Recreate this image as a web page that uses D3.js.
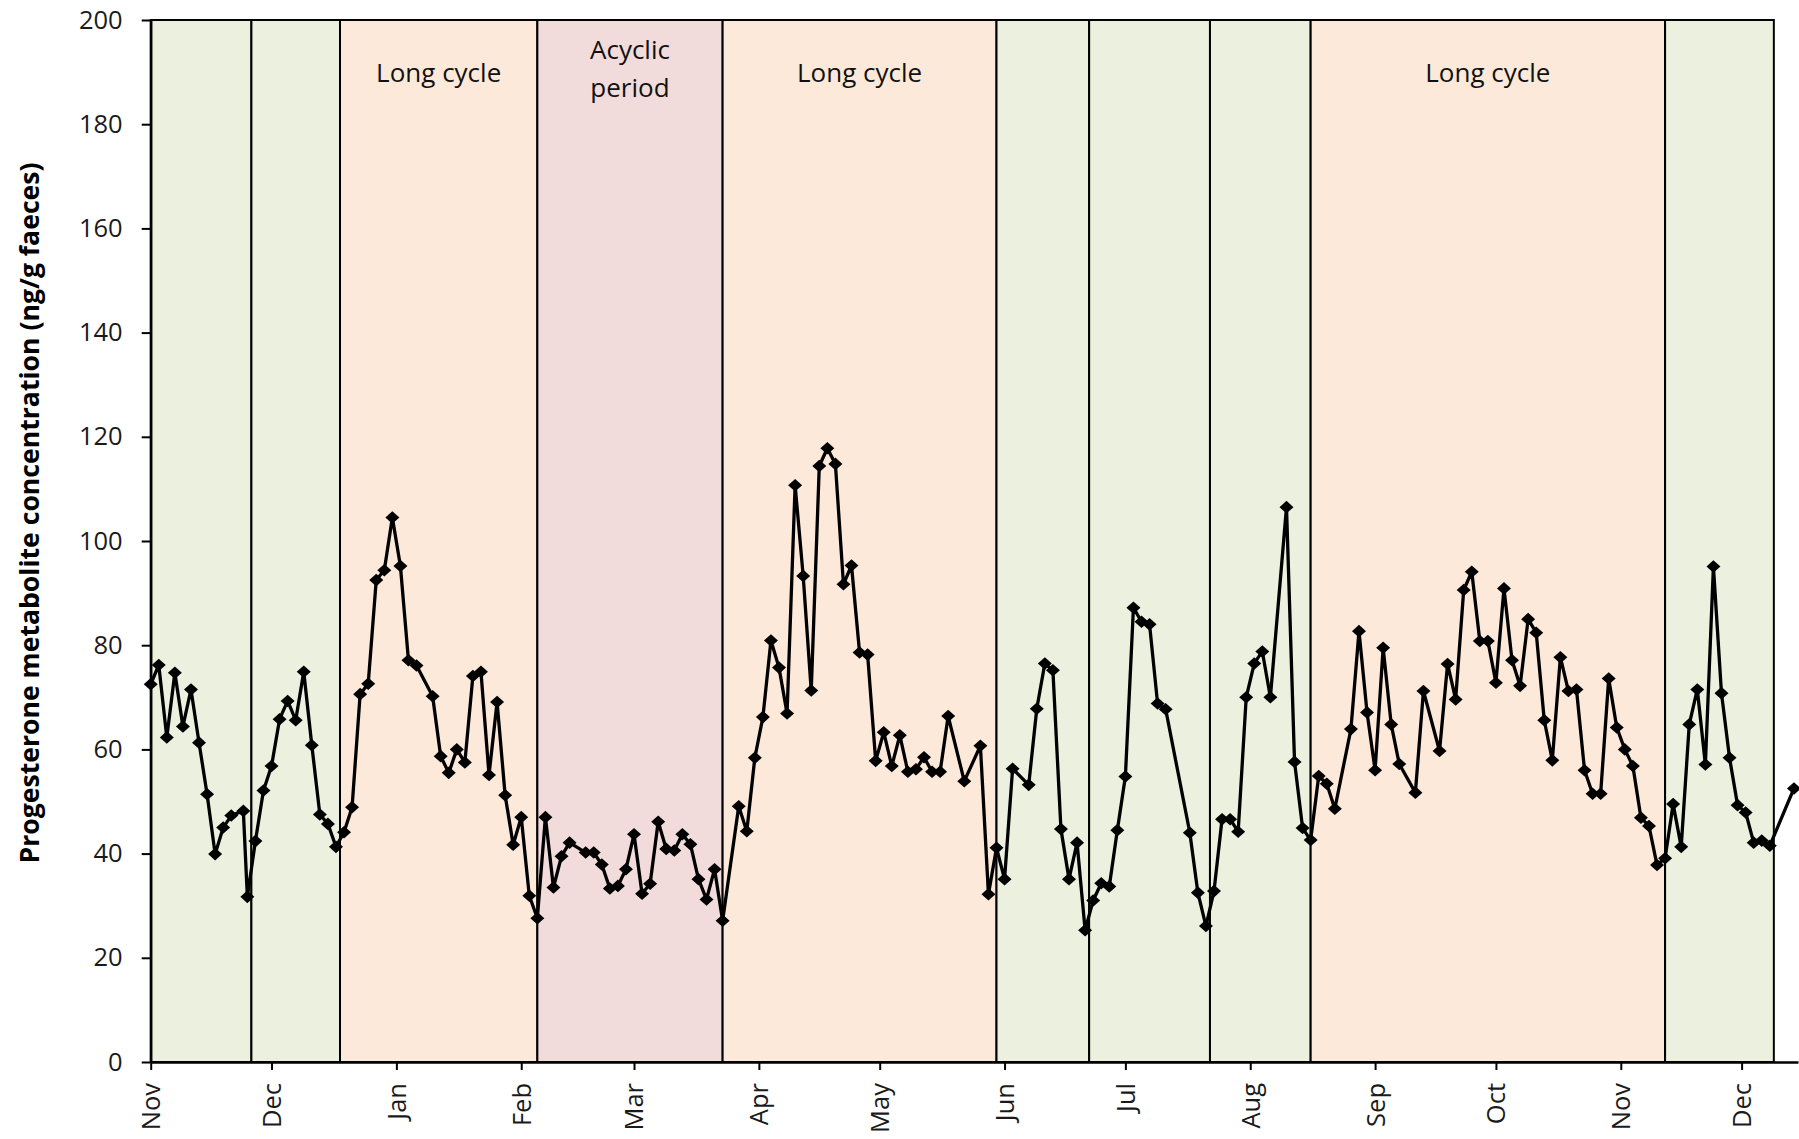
<!DOCTYPE html>
<html><head><meta charset="utf-8">
<script src="https://cdn.jsdelivr.net/npm/d3@7"></script>
<style>
html,body{margin:0;padding:0;background:#fff;}
svg{display:block;}
text{font-family:"Open Sans",sans-serif;}
</style></head>
<body><svg id="chart" width="1799" height="1139"></svg>
<script>
// ---------- data ----------
const sampleDates = [
"2012-11-01","2012-11-03","2012-11-05","2012-11-07","2012-11-09","2012-11-11","2012-11-13","2012-11-15","2012-11-17","2012-11-19",
"2012-11-21","2012-11-24","2012-11-25","2012-11-27","2012-11-29","2012-12-01","2012-12-03","2012-12-05","2012-12-07","2012-12-09",
"2012-12-11","2012-12-13","2012-12-15","2012-12-17","2012-12-19","2012-12-21","2012-12-23","2012-12-25","2012-12-27","2012-12-29",
"2012-12-31","2013-01-02","2013-01-04","2013-01-06","2013-01-10","2013-01-12","2013-01-14","2013-01-16","2013-01-18","2013-01-20",
"2013-01-22","2013-01-24","2013-01-26","2013-01-28","2013-01-30","2013-02-01","2013-02-03","2013-02-05","2013-02-07","2013-02-09",
"2013-02-11","2013-02-13","2013-02-17","2013-02-19","2013-02-21","2013-02-23","2013-02-25","2013-02-27","2013-03-01","2013-03-03",
"2013-03-05","2013-03-07","2013-03-09","2013-03-11","2013-03-13","2013-03-15","2013-03-17","2013-03-19","2013-03-21","2013-03-23",
"2013-03-27","2013-03-29","2013-03-31","2013-04-02","2013-04-04","2013-04-06","2013-04-08","2013-04-10","2013-04-12","2013-04-14",
"2013-04-16","2013-04-18","2013-04-20","2013-04-22","2013-04-24","2013-04-26","2013-04-28","2013-04-30","2013-05-02","2013-05-04",
"2013-05-06","2013-05-08","2013-05-10","2013-05-12","2013-05-14","2013-05-16","2013-05-18","2013-05-22","2013-05-26","2013-05-28",
"2013-05-30","2013-06-01","2013-06-03","2013-06-07","2013-06-09","2013-06-11","2013-06-13","2013-06-15","2013-06-17","2013-06-19",
"2013-06-21","2013-06-23","2013-06-25","2013-06-27","2013-06-29","2013-07-01","2013-07-03","2013-07-05","2013-07-07","2013-07-09",
"2013-07-11","2013-07-17","2013-07-19","2013-07-21","2013-07-23","2013-07-25","2013-07-27","2013-07-29","2013-07-31","2013-08-02",
"2013-08-04","2013-08-06","2013-08-10","2013-08-12","2013-08-14","2013-08-16","2013-08-18","2013-08-20","2013-08-22","2013-08-26",
"2013-08-28","2013-08-30","2013-09-01","2013-09-03","2013-09-05","2013-09-07","2013-09-11","2013-09-13","2013-09-17","2013-09-19",
"2013-09-21","2013-09-23","2013-09-25","2013-09-27","2013-09-29","2013-10-01","2013-10-03","2013-10-05","2013-10-07","2013-10-09",
"2013-10-11","2013-10-13","2013-10-15","2013-10-17","2013-10-19","2013-10-21","2013-10-23","2013-10-25","2013-10-27","2013-10-29",
"2013-10-31","2013-11-02","2013-11-04","2013-11-06","2013-11-08","2013-11-10","2013-11-12","2013-11-14","2013-11-16","2013-11-18",
"2013-11-20","2013-11-22","2013-11-24","2013-11-26","2013-11-28","2013-11-30","2013-12-02","2013-12-04","2013-12-06","2013-12-08",
"2013-12-14"];

const progesterone = [
72.5,76.2,62.3,74.7,64.4,71.5,61.3,51.4,39.9,45.0,
47.3,48.2,31.7,42.4,52.1,56.8,65.8,69.3,65.6,74.9,
60.8,47.5,45.7,41.3,44.1,48.9,70.6,72.6,92.5,94.4,
104.5,95.2,77.1,76.1,70.2,58.7,55.5,60.0,57.5,74.1,
74.9,55.1,69.1,51.2,41.7,47.0,31.9,27.6,47.0,33.5,
39.5,42.1,40.2,40.2,37.9,33.3,33.8,37.0,43.7,32.3,
34.2,46.1,40.9,40.6,43.7,41.8,35.1,31.2,37.0,27.1,
49.1,44.3,58.4,66.2,80.9,75.7,66.9,110.7,93.3,71.3,
114.4,117.8,114.8,91.7,95.3,78.6,78.2,57.8,63.3,56.8,
62.7,55.7,56.2,58.5,55.7,55.7,66.4,53.9,60.7,32.2,
41.1,35.1,56.3,53.2,67.8,76.5,75.2,44.7,35.1,42.1,
25.3,31.0,34.3,33.7,44.5,54.8,87.2,84.5,84.0,68.8,
67.7,44.0,32.5,26.1,32.8,46.6,46.6,44.2,70.0,76.5,
78.8,70.0,106.5,57.6,44.9,42.6,54.9,53.4,48.6,63.9,
82.7,67.1,56.0,79.5,64.8,57.2,51.7,71.2,59.7,76.4,
69.6,90.6,94.1,80.8,80.8,72.8,90.9,77.1,72.2,85.0,
82.4,65.6,57.9,77.7,71.2,71.5,56.0,51.5,51.5,73.6,
64.2,60.0,56.8,46.9,45.3,37.8,39.1,49.5,41.3,64.8,
71.5,57.1,95.1,70.8,58.4,49.3,47.9,42.1,42.5,41.5,
52.5];

const bandStarts = ["2012-11-01","2012-11-26","2012-12-18","2013-02-05","2013-03-23","2013-05-30","2013-06-22","2013-07-22","2013-08-16","2013-11-12"];
const bandEnds   = ["2012-11-26","2012-12-18","2013-02-05","2013-03-23","2013-05-30","2013-06-22","2013-07-22","2013-08-16","2013-11-12","2013-12-09"];
const bandPhases = ["regular","regular","long","acyclic","long","regular","regular","regular","long","regular"];
const bandLabels = ["","","Long cycle","Acyclic|period","Long cycle","","","","Long cycle",""];

const monthLabels = ["Nov","Dec","Jan","Feb","Mar","Apr","May","Jun","Jul","Aug","Sep","Oct","Nov","Dec"];
const yTicks = [0,20,40,60,80,100,120,140,160,180,200];
const yTitle = "Progesterone metabolite concentration (ng/g faeces)";

const phaseColors = {regular:"#EBF1DE", long:"#FDE9D9", acyclic:"#F2DCDB"};

// ---------- build ----------
const parse = d3.timeParse("%Y-%m-%d");
const series = sampleDates.map((d,i)=>({date:parse(d), value:progesterone[i]}));
const bands = bandStarts.map((s,i)=>({start:parse(s), end:parse(bandEnds[i]), phase:bandPhases[i], label:bandLabels[i]}));

const svg = d3.select("#chart");
const x = d3.scaleTime()
  .domain([parse("2012-11-01"), parse("2013-12-15")])
  .range([150.7, 1798]);
const y = d3.scaleLinear().domain([0,200]).range([1062,20]);

// bands
const gb = svg.append("g");
gb.selectAll("rect").data(bands).join("rect")
  .attr("x", d=>x(d.start))
  .attr("y", y(200))
  .attr("width", d=>x(d.end)-x(d.start))
  .attr("height", y(0)-y(200))
  .attr("fill", d=>phaseColors[d.phase])
  .attr("stroke", "#000")
  .attr("stroke-width", 2);

// band labels
const gl = svg.append("g");
bands.filter(d=>d.label).forEach(d=>{
  const cx = (x(d.start)+x(d.end))/2;
  const lines = d.label.split("|");
  const t = gl.append("text")
    .attr("x", cx)
    .attr("text-anchor","middle")
    .attr("font-size", 26)
    .attr("fill","#111");
  if (lines.length === 1) {
    t.attr("y", 82).text(lines[0]);
  } else {
    lines.forEach((ln,k)=>{
      t.append("tspan").attr("x",cx).attr("y", 59 + k*38).text(ln);
    });
  }
});

// line
const line = d3.line().x(d=>x(d.date)).y(d=>y(d.value));
svg.append("path").datum(series)
  .attr("d", line)
  .attr("fill","none")
  .attr("stroke","#000")
  .attr("stroke-width",3.3)
  .attr("stroke-linejoin","round");

// markers (square diamond)
const diamond = { draw(ctx, size){ const r = Math.sqrt(size/2);
  ctx.moveTo(0,-r*0.9); ctx.lineTo(r,0); ctx.lineTo(0,r*0.9); ctx.lineTo(-r,0); ctx.closePath(); } };
svg.append("g").selectAll("path").data(series).join("path")
  .attr("transform", d=>`translate(${x(d.date)},${y(d.value)})`)
  .attr("d", d3.symbol().type(diamond).size(98))
  .attr("fill","#000");

// y axis
const ya = svg.append("g").attr("transform","translate(150.7,0)")
  .call(d3.axisLeft(y).tickValues(yTicks).tickSize(9).tickSizeOuter(0).tickPadding(19));
ya.select(".domain").attr("stroke","#000").attr("stroke-width",2.5);
ya.selectAll(".tick line").attr("stroke","#000").attr("stroke-width",2);
ya.selectAll(".tick text").attr("font-size",25.5).attr("font-family","Open Sans").attr("fill","#1a1a1a");

// x axis
const xa = svg.append("g").attr("transform",`translate(0,${y(0)})`)
  .call(d3.axisBottom(x).ticks(d3.timeMonth.every(1)).tickFormat((d,i)=>monthLabels[i]).tickSize(8).tickSizeOuter(0));
xa.select(".domain").attr("stroke","#000").attr("stroke-width",2.5);
xa.selectAll(".tick line").attr("stroke","#000").attr("stroke-width",2);
xa.selectAll(".tick text")
  .attr("font-size",25.5).attr("font-family","Open Sans").attr("fill","#1a1a1a")
  .attr("transform","rotate(-90)")
  .attr("x",-21).attr("y",0).attr("dy","0.35em")
  .attr("text-anchor","end");

// y title
svg.append("text")
  .attr("transform","translate(39,513) rotate(-90)")
  .attr("text-anchor","middle")
  .attr("font-size",26.6)
  .attr("font-weight","bold")
  .attr("fill","#000")
  .text(yTitle);
</script>
</body></html>
